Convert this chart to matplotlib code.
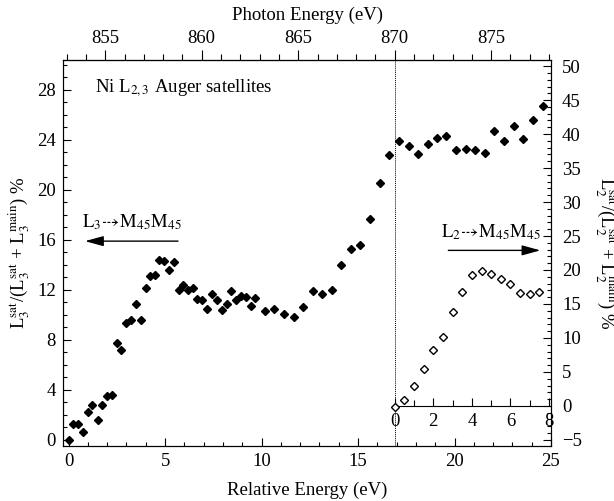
import matplotlib
matplotlib.use('Agg')
import matplotlib.pyplot as plt
from matplotlib.ticker import MultipleLocator

plt.rcParams['font.family'] = ['Liberation Serif', 'DejaVu Sans']
plt.rcParams['mathtext.fontset'] = 'stix'
plt.rcParams['font.size'] = 13.5

# L3 satellite ratio vs relative energy (filled diamonds, left axis)
l3_energy = [0, 0.25, 0.48, 0.75, 0.98, 1.23, 1.5, 1.73, 2.0, 2.27,
             2.49, 2.72, 2.98, 3.22, 3.5, 3.74, 4.0, 4.22, 4.48, 4.71,
             4.96, 5.21, 5.47, 5.71, 5.95, 6.21, 6.44, 6.68, 6.93, 7.18,
             7.44, 7.68, 7.94, 8.2, 8.44, 8.68, 8.93, 9.18, 9.43, 9.68,
             10.17, 10.67, 11.17, 11.67, 12.17, 12.66, 13.13, 13.65, 14.13, 14.63,
             15.11, 15.63, 16.12, 16.62, 17.1, 17.62, 18.1, 18.6, 19.09, 19.57,
             20.08, 20.58, 21.06, 21.56, 22.06, 22.57, 23.07, 23.55, 24.05, 24.57]
l3_ratio = [0.0, 1.26, 1.28, 0.6, 2.22, 2.78, 1.6, 2.81, 3.47, 3.55,
            7.74, 7.16, 9.34, 9.62, 10.84, 9.56, 12.14, 13.08, 13.22, 14.42,
            14.28, 13.62, 14.2, 11.96, 12.36, 12.02, 12.14, 11.3, 11.16, 10.5,
            11.7, 11.16, 10.36, 10.9, 11.9, 11.16, 11.48, 11.42, 10.68, 11.34,
            10.3, 10.44, 10.1, 9.8, 10.6, 11.9, 11.64, 12.02, 14.02, 15.3,
            15.62, 17.7, 20.58, 22.76, 23.9, 23.5, 22.84, 23.66, 24.18, 24.28,
            23.22, 23.24, 23.22, 22.98, 24.68, 23.88, 25.1, 24.06, 25.56, 26.7]

# L2 satellite ratio vs energy above the L2 edge (open diamonds, right axis)
l2_energy = [0, 0.5, 1, 1.5, 2, 2.5, 3, 3.5, 4, 4.5, 5, 5.5, 6, 6.5, 7, 7.5]
l2_ratio = [-0.1, 0.9, 2.9, 5.5, 8.2, 10.1, 13.8, 16.8, 19.3, 19.9,
            19.4, 18.7, 17.9, 16.6, 16.5, 16.7]

photon_offset = 853.1   # photon energy at relative energy 0
l2_edge = 870           # photon energy of L2 edge

xmin, xmax = -0.29, 25
fig = plt.figure(figsize=(6.14, 5.01), dpi=100)
ax_l, ax_b, ax_w, ax_h = 63/614, 1-446/501, 488/614, 386/501
ax = fig.add_axes([ax_l, ax_b, ax_w, ax_h])
ax.plot(l3_energy, l3_ratio, 'D', color='k', ms=4.2, ls='none', zorder=3)
ax.set_xlim(xmin, xmax)
ax.set_ylim(-0.5, 30.4)
ax.xaxis.set_major_locator(MultipleLocator(5))
ax.xaxis.set_minor_locator(MultipleLocator(1))
ax.yaxis.set_major_locator(MultipleLocator(4))
ax.yaxis.set_minor_locator(MultipleLocator(1))
ax.tick_params(which='both', direction='in', top=False, right=False, width=0.8)
ax.tick_params(which='major', length=6, pad=5)
ax.tick_params(which='minor', length=3)
for s in ax.spines.values():
    s.set_linewidth(0.8)

edge_rel = l2_edge - photon_offset
ax.axvline(edge_rel, color='k', ls=(0, (1, 1)), lw=0.7)

ax.set_xlabel('Relative Energy (eV)', va='center')
ax.xaxis.set_label_coords(0.5, -0.114, transform=ax.transAxes)
ax.set_ylabel(r'L$_3^{\mathrm{sat}}$/(L$_3^{\mathrm{sat}}$ + L$_3^{\mathrm{main}}$) %', va='center')
ax.yaxis.set_label_coords(-0.09, 0.5, transform=ax.transAxes)

# top photon energy axis
top = ax.secondary_xaxis('top', functions=(lambda x: x + photon_offset,
                                           lambda x: x - photon_offset))
top.xaxis.set_major_locator(MultipleLocator(5))
top.xaxis.set_minor_locator(MultipleLocator(1))
top.tick_params(which='both', direction='out', width=0.8)
top.tick_params(which='major', length=7.5, pad=2)
top.tick_params(which='minor', length=4)
top.set_xlabel('Photon Energy (eV)', va='center')
top.xaxis.set_label_coords(0.5, 1.115, transform=ax.transAxes)

# right axis for L2
ax2 = ax.twinx()
ax2.set_ylim(-5.9, 50.9)
ax2.yaxis.set_major_locator(MultipleLocator(5))
ax2.yaxis.set_minor_locator(MultipleLocator(1))
ax2.tick_params(which='both', direction='in', width=0.8)
ax2.tick_params(which='major', length=6, pad=8)
ax2.tick_params(which='minor', length=3)
ax2.set_ylabel(r'L$_2^{\mathrm{sat}}$/(L$_2^{\mathrm{sat}}$ + L$_2^{\mathrm{main}}$) %',
               rotation=270, va='center')
ax2.yaxis.set_label_coords(1.113, 0.5, transform=ax.transAxes)

# inset axis: energy above the L2 edge
frac = (edge_rel - xmin) / (xmax - xmin)
ins = fig.add_axes([ax_l + frac*ax_w, ax_b, (1-frac)*ax_w, ax_h])
ins.patch.set_visible(False)
ins.set_xlim(0, xmax - edge_rel)
ins.set_ylim(ax2.get_ylim())
for k in ['left', 'right', 'top']:
    ins.spines[k].set_visible(False)
ins.spines['bottom'].set_position(('data', 0))
ins.spines['bottom'].set_linewidth(0.8)
ins.set_yticks([])
ins.xaxis.set_major_locator(MultipleLocator(2))
ins.xaxis.set_minor_locator(MultipleLocator(1))
ins.tick_params(which='both', direction='in', width=0.8)
ins.tick_params(which='major', length=6, pad=5)
ins.tick_params(which='minor', length=4)
ins.plot(l2_energy, l2_ratio, 'D', mfc='white', mec='k', mew=1.0, ms=4.0, ls='none',
         clip_on=False, zorder=3)

# annotations
ax.text(1.37, 28.1, r'Ni L$_{2,3}$ Auger satellites', va='center', ha='left')
arrow = dict(arrowstyle='-|>,head_length=0.8,head_width=0.22', color='k', lw=1,
             shrinkA=0, shrinkB=0, mutation_scale=14)
ax.annotate('', xy=(0.85, 15.9), xytext=(5.67, 15.9), arrowprops=arrow)
ax.text(3.26, 17.4, r'$\mathrm{L}_3\!\dashrightarrow\!\mathrm{M}_{45}\mathrm{M}_{45}$',
        ha='center', va='center')
ax.annotate('', xy=(24.45, 15.16), xytext=(19.68, 15.16), arrowprops=arrow)
ax.text(21.86, 16.6, r'$\mathrm{L}_2\!\dashrightarrow\!\mathrm{M}_{45}\mathrm{M}_{45}$',
        ha='center', va='center')

fig.savefig('out.png', dpi=100)
